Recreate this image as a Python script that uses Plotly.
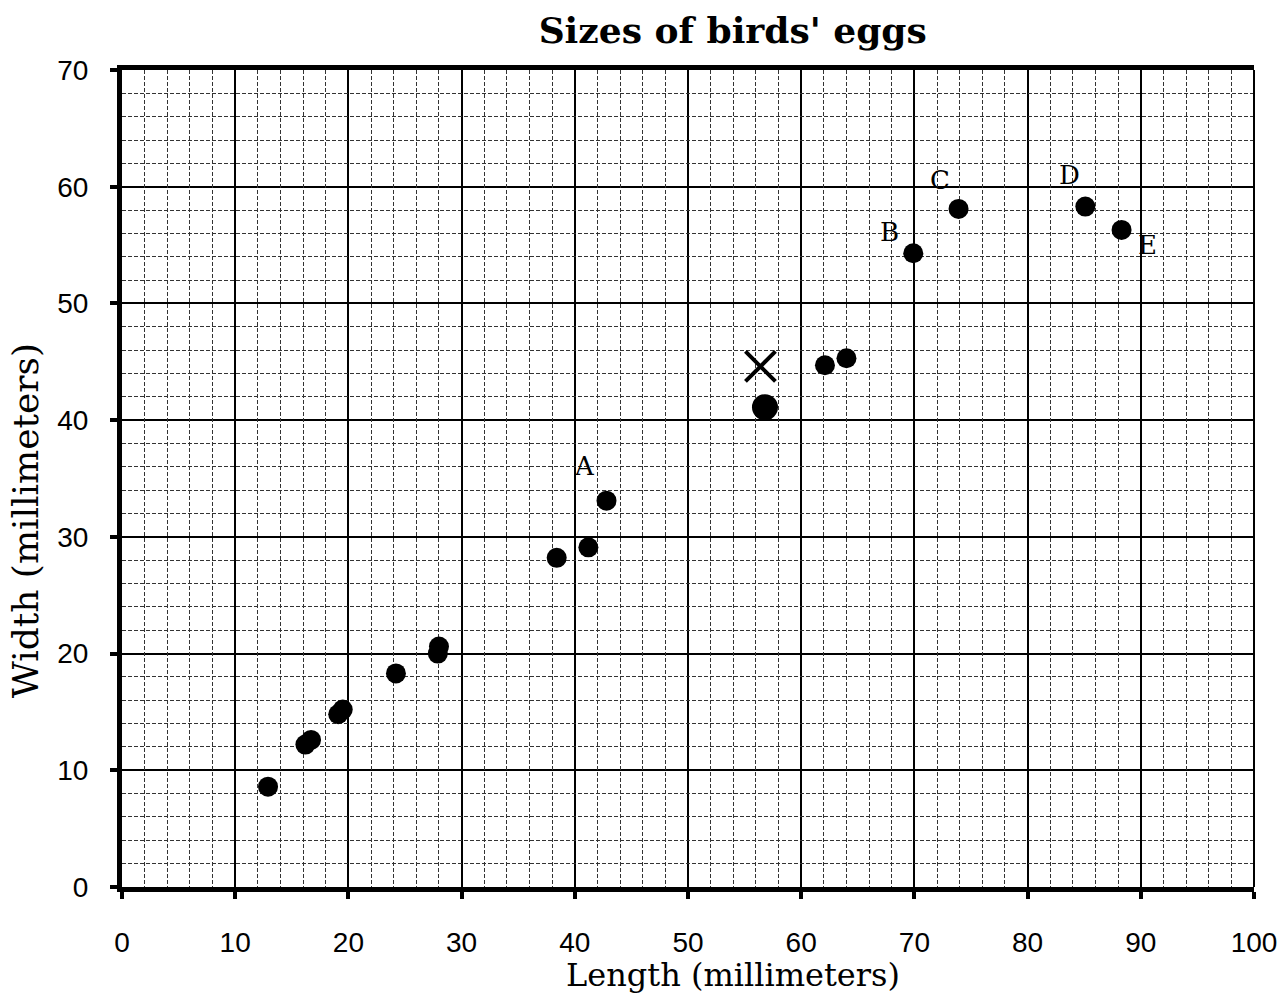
import plotly.graph_objects as go

# Egg sizes (length, width) in mm
lengths = [12.9, 16.2, 16.7, 19.1, 19.5, 24.2, 27.9, 28.0, 38.4, 41.2, 42.8, 62.1, 64.0, 69.9, 73.9, 85.1, 88.3]
widths  = [8.6, 12.2, 12.6, 14.8, 15.2, 18.3, 20.0, 20.6, 28.2, 29.1, 33.1, 44.7, 45.3, 54.3, 58.1, 58.3, 56.3]

big_len = [56.8]
big_wid = [41.1]

x_len = [56.4]
x_wid = [44.6]

label_text = ["A", "B", "C", "D", "E"]
label_x = [40.9, 67.8, 72.3, 83.7, 90.6]
label_y = [36.1, 56.1, 60.6, 61.0, 55.0]

x_ticks = list(range(0, 101, 10))
y_ticks = list(range(0, 71, 10))
x_minor = [v for v in range(0, 101, 2) if v % 10]
y_minor = [v for v in range(0, 71, 2) if v % 10]

fig = go.Figure()
# invisible trace that anchors the overlay axes carrying the fine grid
fig.add_trace(go.Scatter(x=[], y=[], xaxis="x2", yaxis="y2", showlegend=False, hoverinfo="skip"))
fig.add_trace(go.Scatter(x=lengths, y=widths, mode="markers",
                         marker=dict(color="black", size=20), showlegend=False))
fig.add_trace(go.Scatter(x=big_len, y=big_wid, mode="markers",
                         marker=dict(color="black", size=26), showlegend=False))
fig.add_trace(go.Scatter(x=x_len, y=x_wid, mode="markers",
                         marker=dict(color="black", size=30, symbol="x-thin",
                                     line=dict(color="black", width=4)), showlegend=False))

for t, lx, ly in zip(label_text, label_x, label_y):
    fig.add_annotation(x=lx, y=ly, text=t, showarrow=False,
                       font=dict(family="DejaVu Serif", size=26, color="black"))

# axis titles (positioned like the reference, slightly off-centre)
fig.add_annotation(xref="paper", yref="paper", x=0.540, y=-0.1077, text="Length (millimeters)",
                   showarrow=False, xanchor="center", yanchor="middle",
                   font=dict(family="DejaVu Serif", size=32, color="black"))
fig.add_annotation(xref="paper", yref="paper", x=-0.0857, y=0.449, text="Width (millimeters)",
                   showarrow=False, xanchor="center", yanchor="middle", textangle=-90,
                   font=dict(family="DejaVu Serif", size=36, color="black"))

fig.update_layout(
    xaxis=dict(range=[0, 100], tickmode="array", tickvals=x_ticks, showgrid=True,
               gridcolor="black", gridwidth=2,
               showline=True, linecolor="black", linewidth=5, mirror=True,
               ticks="outside", ticklen=7, tickwidth=4, tickcolor="black",
               ticklabelstandoff=19, zeroline=False, automargin=False,
               tickfont=dict(family="Liberation Sans", size=28, color="black")),
    yaxis=dict(range=[0, 70], tickmode="array", tickvals=y_ticks, showgrid=True,
               gridcolor="black", gridwidth=2,
               showline=True, linecolor="black", linewidth=5,
               ticks="outside", ticklen=7, tickwidth=4, tickcolor="black",
               ticklabelstandoff=16, zeroline=False, automargin=False,
               tickfont=dict(family="Liberation Sans", size=28, color="black")),
    xaxis2=dict(overlaying="x", range=[0, 100], tickmode="array", tickvals=x_minor,
                showgrid=True, gridcolor="#333", gridwidth=1, griddash="4px,2px",
                showticklabels=False, ticks="", showline=False, zeroline=False, automargin=False),
    yaxis2=dict(overlaying="y", range=[0, 70], tickmode="array", tickvals=y_minor,
                showgrid=True, gridcolor="#333", gridwidth=1, griddash="4px,2px",
                showticklabels=False, ticks="", showline=False, zeroline=False, automargin=False),
)

fig.add_shape(type="line", xref="paper", yref="paper", x0=1, x1=1, y0=0, y1=1,
              line=dict(color="black", width=2))

fig.update_layout(
    width=1281, height=1006,
    margin=dict(l=122, r=27, t=70, b=119),
    plot_bgcolor="white", paper_bgcolor="white",
    title=dict(text="<b>Sizes of birds' eggs</b>", x=0.572, xanchor="center",
               y=0.970, yanchor="middle",
               font=dict(family="DejaVu Serif", size=36, color="black")),
)

fig.write_html("out.html", config={"displayModeBar": False},
               post_script="document.body.style.margin='0';")
